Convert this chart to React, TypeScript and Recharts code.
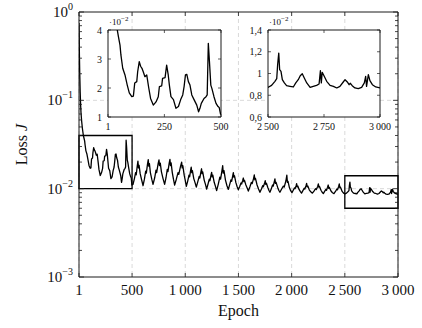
import React from 'react';
import { LineChart, Line, XAxis, YAxis, CartesianGrid, ReferenceArea } from 'recharts';

const FONT = '"Liberation Serif", "Times New Roman", serif';

// ---- data ----
const EPOCHS = [
  1, 3, 5, 8, 12, 16, 20, 26, 33, 42, 47, 54, 58, 66, 76, 86, 95, 106, 113, 119,
  128, 132, 139, 145, 151, 157, 164, 172, 181, 189, 201, 213, 223, 228, 238, 242, 253, 260, 267, 272,
  279, 290, 301, 312, 322, 331, 337, 343, 349, 356, 363, 371, 381, 393, 401, 407, 413, 425, 434, 439,
  444, 449, 455, 460, 469, 478, 487, 492, 498,
  509, 522, 533, 539, 548, 555, 560, 566, 576, 589,
  603, 616, 628, 634, 645, 652, 657, 663, 672, 685,
  697, 712, 725, 731, 745, 753, 758, 765, 776, 791,
  806, 819, 831, 837, 849, 856, 861, 867, 878, 889,
  900, 916, 932, 939, 956, 966, 971, 977, 990, 1000,
  1010, 1023, 1035, 1041, 1050, 1056, 1061, 1067, 1080, 1092,
  1104, 1118, 1131, 1137, 1147, 1153, 1158, 1164, 1178, 1190,
  1201, 1214, 1226, 1232, 1242, 1248, 1253, 1259, 1272, 1284,
  1295, 1310, 1325, 1332, 1345, 1352, 1357, 1364, 1378, 1392,
  1405, 1418, 1430, 1436, 1446, 1452, 1457, 1463, 1476, 1488,
  1499, 1512, 1524, 1530, 1540, 1546, 1551, 1557, 1570, 1582,
  1593, 1608, 1622, 1629, 1642, 1649, 1654, 1660, 1675, 1689,
  1702, 1716, 1728, 1734, 1746, 1752, 1757, 1763, 1776, 1786,
  1796, 1809, 1821, 1827, 1837, 1843, 1848, 1854, 1868, 1879,
  1890, 1906, 1922, 1930, 1946, 1955, 1960, 1966, 1979, 1991,
  2003, 2015, 2027, 2033, 2042, 2047, 2052, 2058, 2070, 2081,
  2093, 2106, 2118, 2124, 2135, 2141, 2146, 2152, 2166, 2180,
  2195, 2210, 2225, 2232, 2245, 2251, 2256, 2262, 2276, 2287,
  2298, 2310, 2322, 2328, 2338, 2344, 2349, 2355, 2370, 2384,
  2398, 2412, 2425, 2431, 2442, 2448, 2453, 2459, 2475, 2488,
  2501, 2516, 2531, 2539, 2543, 2548, 2552, 2558, 2564, 2573, 2583, 2598, 2613, 2624, 2635, 2644,
  2653, 2662, 2673, 2688, 2702, 2717, 2728, 2734, 2738, 2742, 2751, 2762, 2777, 2792, 2807, 2821,
  2836, 2844, 2854, 2862, 2867, 2876, 2888, 2903, 2918, 2930, 2936, 2940, 2948, 2955, 2966, 2981, 3000,
];
const LOSS = [
  0.75, 0.48, 0.32, 0.2, 0.125, 0.09, 0.072, 0.058, 0.048, 0.04, 0.0377, 0.0348, 0.0314, 0.0268, 0.0245, 0.021, 0.0183, 0.017, 0.0172, 0.0217,
  0.0222, 0.0256, 0.0291, 0.0275, 0.0268, 0.0255, 0.0239, 0.0245, 0.02, 0.0164, 0.0141, 0.0152, 0.017, 0.0205, 0.0207, 0.0233, 0.0236, 0.0279, 0.0245, 0.021,
  0.017, 0.016, 0.013, 0.0136, 0.016, 0.0176, 0.0205, 0.0245, 0.0247, 0.0222, 0.021, 0.0176, 0.016, 0.0141, 0.0118, 0.013, 0.0147, 0.0164, 0.017, 0.0176,
  0.0354, 0.0291, 0.021, 0.0198, 0.017, 0.0147, 0.0136, 0.0133, 0.011,
  0.0112, 0.013, 0.0152, 0.0143, 0.0178, 0.0205, 0.0172, 0.0184, 0.0148, 0.0127,
  0.0108, 0.0128, 0.0158, 0.015, 0.019, 0.0213, 0.018, 0.0192, 0.0152, 0.0128,
  0.0112, 0.0132, 0.0162, 0.0152, 0.0192, 0.0212, 0.0182, 0.0195, 0.0155, 0.013,
  0.0112, 0.0133, 0.0165, 0.0156, 0.0195, 0.0215, 0.0183, 0.0196, 0.0152, 0.0128,
  0.011, 0.0128, 0.0152, 0.0145, 0.018, 0.02, 0.0172, 0.0182, 0.0142, 0.0124,
  0.0106, 0.0122, 0.0142, 0.0136, 0.016, 0.0175, 0.0152, 0.016, 0.013, 0.0117,
  0.0104, 0.012, 0.0138, 0.0132, 0.0155, 0.0168, 0.0148, 0.0155, 0.0125, 0.0112,
  0.0099, 0.0113, 0.0128, 0.0123, 0.0142, 0.0153, 0.0136, 0.0142, 0.0118, 0.0106,
  0.0095, 0.0112, 0.0135, 0.0128, 0.016, 0.0182, 0.015, 0.016, 0.0125, 0.0108,
  0.0098, 0.0112, 0.0126, 0.0121, 0.014, 0.0152, 0.0135, 0.014, 0.0117, 0.0105,
  0.0097, 0.0106, 0.0116, 0.0113, 0.0124, 0.0132, 0.012, 0.0124, 0.011, 0.0102,
  0.0094, 0.0105, 0.0118, 0.0114, 0.013, 0.0143, 0.0126, 0.0131, 0.011, 0.0099,
  0.0091, 0.0099, 0.0108, 0.0105, 0.0116, 0.0123, 0.0112, 0.0115, 0.0103, 0.0096,
  0.0091, 0.01, 0.011, 0.0107, 0.012, 0.0129, 0.0115, 0.0118, 0.0104, 0.0096,
  0.0091, 0.0099, 0.0107, 0.0104, 0.0122, 0.0142, 0.0118, 0.0121, 0.0103, 0.0095,
  0.009, 0.0096, 0.0102, 0.01, 0.0108, 0.0114, 0.0105, 0.0107, 0.0098, 0.0093,
  0.0089, 0.0095, 0.0101, 0.0099, 0.0108, 0.0115, 0.0105, 0.0107, 0.0097, 0.0092,
  0.0089, 0.0094, 0.01, 0.0098, 0.0106, 0.0113, 0.0104, 0.0106, 0.0096, 0.0091,
  0.0088, 0.0093, 0.0098, 0.0096, 0.0104, 0.011, 0.0101, 0.0103, 0.0094, 0.009,
  0.0088, 0.0093, 0.0099, 0.0097, 0.0106, 0.0113, 0.0103, 0.0104, 0.0093, 0.0089,
  0.00873, 0.00891, 0.00928, 0.00952, 0.01081, 0.01188, 0.01035, 0.0102, 0.00943, 0.00913, 0.00888, 0.00882, 0.00876, 0.00913, 0.00943, 0.0098,
  0.00998, 0.00959, 0.00913, 0.00873, 0.00882, 0.00891, 0.00903, 0.01026, 0.00913, 0.01011, 0.00974, 0.00928, 0.00891, 0.00882, 0.00867, 0.00882,
  0.00922, 0.00943, 0.00922, 0.00897, 0.0091, 0.00888, 0.00867, 0.00861, 0.00873, 0.00913, 0.00974, 0.00882, 0.00989, 0.00934, 0.00897, 0.00876, 0.00867,
];

const MAIN_X_TICKS = [1, 500, 1000, 1500, 2000, 2500, 3000];
const MAIN_Y_MAJOR = [0.001, 0.01, 0.1, 1];
const MAIN_Y_MINOR = [
  0.002, 0.003, 0.004, 0.005, 0.006, 0.007, 0.008, 0.009,
  0.02, 0.03, 0.04, 0.05, 0.06, 0.07, 0.08, 0.09,
  0.2, 0.3, 0.4, 0.5, 0.6, 0.7, 0.8, 0.9,
];
const MAIN_Y_GRID = [0.01, 0.1];
const ZOOM_BOXES = [
  { x1: 1, x2: 500, y1: 0.01, y2: 0.04 },
  { x1: 2500, x2: 3000, y1: 0.006, y2: 0.014 },
];
const INSET1_X_TICKS = [1, 250, 500];
const INSET1_Y_TICKS = [0.01, 0.02, 0.03, 0.04];
const INSET2_X_TICKS = [2500, 2750, 3000];
const INSET2_Y_TICKS = [0.006, 0.008, 0.01, 0.012, 0.014];

const data = EPOCHS.map((e, i) => ({ epoch: e, loss: LOSS[i] }));
const windowData = (lo: number, hi: number) => {
  const first = Math.max(0, EPOCHS.findIndex((e) => e >= lo) - 1);
  let last = EPOCHS.findIndex((e) => e > hi);
  if (last < 0) last = EPOCHS.length - 1;
  return data.slice(first, last + 1);
};
const inset1Data = windowData(1, 500);
const inset2Data = windowData(2500, 3000);

// ---- layout ----
const W = 422;
const H = 328;
const MAIN = { left: 79, right: 398, top: 12, bottom: 277 };
const AX = '#1a1a1a';
const TXT = { fontFamily: FONT };

const fmtThousands = (v: number) =>
  v >= 1000 ? `${Math.floor(v / 1000)}\u2009${String(v % 1000).padStart(3, '0')}` : String(v);
const fmtComma = (v: number) => String(Math.round(v * 1000) / 10).replace('.', ',');

const MainXTick = (props: any) => {
  const { x, payload } = props;
  return (
    <g>
      <line x1={x} x2={x} y1={MAIN.bottom} y2={MAIN.bottom - 4} stroke={AX} strokeWidth={0.8} />
      <line x1={x} x2={x} y1={MAIN.top} y2={MAIN.top + 4} stroke={AX} strokeWidth={0.8} />
      <text x={x} y={MAIN.bottom + 18} textAnchor="middle" fontSize={15} style={TXT} fill="#111">
        {fmtThousands(payload.value)}
      </text>
    </g>
  );
};

const MainYTick = (props: any) => {
  const { y, payload } = props;
  const v = payload.value;
  const major = MAIN_Y_MAJOR.includes(v);
  const len = major ? 5 : 3;
  const exp = Math.round(Math.log10(v));
  return (
    <g>
      <line x1={MAIN.left} x2={MAIN.left + len} y1={y} y2={y} stroke={AX} strokeWidth={0.8} />
      <line x1={MAIN.right} x2={MAIN.right - len} y1={y} y2={y} stroke={AX} strokeWidth={0.8} />
      {major && (
        <text x={73} y={y + 5} textAnchor="end" fontSize={15} style={TXT} fill="#111">
          10
          <tspan dy={-7} fontSize={10}>
            {exp === 0 ? '0' : '\u2212' + Math.abs(exp)}
          </tspan>
        </text>
      )}
    </g>
  );
};

type Box = { left: number; top: number; w: number; h: number };
const INSET1_BOX: Box = { left: 108, top: 30, w: 113, h: 87 };
const INSET2_BOX: Box = { left: 268, top: 30, w: 112, h: 87 };
const IN_YW = 30;
const IN_TOP = 20;
const IN_RIGHT = 12;
const IN_XH = 20;

const makeInsetXTick = (box: Box, fmt: (v: number) => string) => (props: any) => {
  const { x, payload } = props;
  const top = IN_TOP;
  const bottom = IN_TOP + box.h;
  return (
    <g>
      <line x1={x} x2={x} y1={bottom} y2={bottom - 3} stroke={AX} strokeWidth={0.7} />
      <line x1={x} x2={x} y1={top} y2={top + 3} stroke={AX} strokeWidth={0.7} />
      <text x={x} y={bottom + 13} textAnchor="middle" fontSize={10} style={TXT} fill="#111">
        {fmt(payload.value)}
      </text>
    </g>
  );
};
const makeInsetYTick = (box: Box, fmt: (v: number) => string) => (props: any) => {
  const { y, payload } = props;
  const left = IN_YW;
  const right = IN_YW + box.w;
  return (
    <g>
      <line x1={left} x2={left + 3} y1={y} y2={y} stroke={AX} strokeWidth={0.7} />
      <line x1={right} x2={right - 3} y1={y} y2={y} stroke={AX} strokeWidth={0.7} />
      <text x={left - 6} y={y + 3.5} textAnchor="end" fontSize={10} style={TXT} fill="#111">
        {fmt(payload.value)}
      </text>
    </g>
  );
};

const Inset = ({
  box, rows, xTicks, yTicks, xFmt, yFmt,
}: {
  box: Box; rows: any[]; xTicks: number[]; yTicks: number[];
  xFmt: (v: number) => string; yFmt: (v: number) => string;
}) => {
  const xd: [number, number] = [xTicks[0], xTicks[xTicks.length - 1]];
  const yd: [number, number] = [yTicks[0], yTicks[yTicks.length - 1]];
  return (
    <>
      <div
        style={{
          position: 'absolute', left: box.left, top: box.top, width: box.w, height: box.h, background: '#fff',
        }}
      />
      <div style={{ position: 'absolute', left: box.left - IN_YW, top: box.top - IN_TOP }}>
        <LineChart
          width={IN_YW + box.w + IN_RIGHT}
          height={IN_TOP + box.h + IN_XH}
          data={rows}
          margin={{ top: IN_TOP, right: IN_RIGHT, left: 0, bottom: 0 }}
        >
          <XAxis
            dataKey="epoch" type="number" domain={xd} ticks={xTicks} interval={0} allowDataOverflow
            axisLine={false} tickLine={false} tickSize={0} tickMargin={0} height={IN_XH}
            tick={makeInsetXTick(box, xFmt)}
          />
          <YAxis
            type="number" domain={yd} ticks={yTicks} interval={0} allowDataOverflow
            axisLine={false} tickLine={false} tickSize={0} tickMargin={0} width={IN_YW}
            tick={makeInsetYTick(box, yFmt)}
          />
          <ReferenceArea x1={xd[0]} x2={xd[1]} y1={yd[0]} y2={yd[1]} fill="none" stroke={AX} strokeWidth={1} fillOpacity={0} />
          <Line
            type="linear" dataKey="loss" stroke="#000" strokeWidth={1.3} dot={false}
            isAnimationActive={false} strokeLinejoin="round"
          />
        </LineChart>
      </div>
    </>
  );
};

export default function App() {
  return (
    <div style={{ position: 'absolute', left: 0, top: 0, width: W, height: H, background: '#fff' }}>
      <div style={{ position: 'absolute', left: 0, top: 0 }}>
        <LineChart width={W} height={H} data={data} margin={{ top: MAIN.top, right: W - MAIN.right, left: 0, bottom: 0 }}>
          <CartesianGrid
            horizontal vertical horizontalValues={MAIN_Y_GRID} stroke="#cfcfcf" strokeDasharray="4 3" strokeWidth={0.8}
          />
          <XAxis
            dataKey="epoch" type="number" domain={[1, 3000]} ticks={MAIN_X_TICKS} interval={0} allowDataOverflow
            axisLine={false} tickLine={false} tickSize={0} tickMargin={0} height={H - MAIN.bottom}
            tick={MainXTick}
          />
          <YAxis
            type="number" scale="log" domain={[0.001, 1]} ticks={[...MAIN_Y_MAJOR, ...MAIN_Y_MINOR].sort((a, b) => a - b)}
            interval={0} allowDataOverflow axisLine={false} tickLine={false} tickSize={0} tickMargin={0}
            width={MAIN.left} tick={MainYTick}
          />
          <ReferenceArea x1={1} x2={3000} y1={0.001} y2={1} fill="none" fillOpacity={0} stroke={AX} strokeWidth={1} />
          {ZOOM_BOXES.map((b, i) => (
            <ReferenceArea key={i} x1={b.x1} x2={b.x2} y1={b.y1} y2={b.y2} fill="none" fillOpacity={0} stroke="#000" strokeWidth={1.3} />
          ))}
          <Line type="linear" dataKey="loss" stroke="#000" strokeWidth={1.3} dot={false} isAnimationActive={false} strokeLinejoin="round" />
        </LineChart>
      </div>
      <Inset box={INSET1_BOX} rows={inset1Data} xTicks={INSET1_X_TICKS} yTicks={INSET1_Y_TICKS} xFmt={fmtThousands} yFmt={fmtComma} />
      <Inset box={INSET2_BOX} rows={inset2Data} xTicks={INSET2_X_TICKS} yTicks={INSET2_Y_TICKS} xFmt={fmtThousands} yFmt={fmtComma} />
      <svg width={W} height={H} style={{ position: 'absolute', left: 0, top: 0, pointerEvents: 'none' }}>
        <text x={(MAIN.left + MAIN.right) / 2} y={316} textAnchor="middle" fontSize={16} style={TXT} fill="#111">
          Epoch
        </text>
        <text x={27} y={(MAIN.top + MAIN.bottom) / 2} textAnchor="middle" fontSize={16} style={TXT} fill="#111"
          transform={`rotate(-90 27 ${(MAIN.top + MAIN.bottom) / 2})`}>
          Loss <tspan fontStyle="italic">J</tspan>
        </text>
        {[INSET1_BOX, INSET2_BOX].map((b, i) => (
          <text key={i} x={b.left + 1} y={b.top - 5} fontSize={9} style={TXT} fill="#111">
            ·10<tspan dy={-4} fontSize={7}>{'\u2212'}2</tspan>
          </text>
        ))}
      </svg>
    </div>
  );
}
